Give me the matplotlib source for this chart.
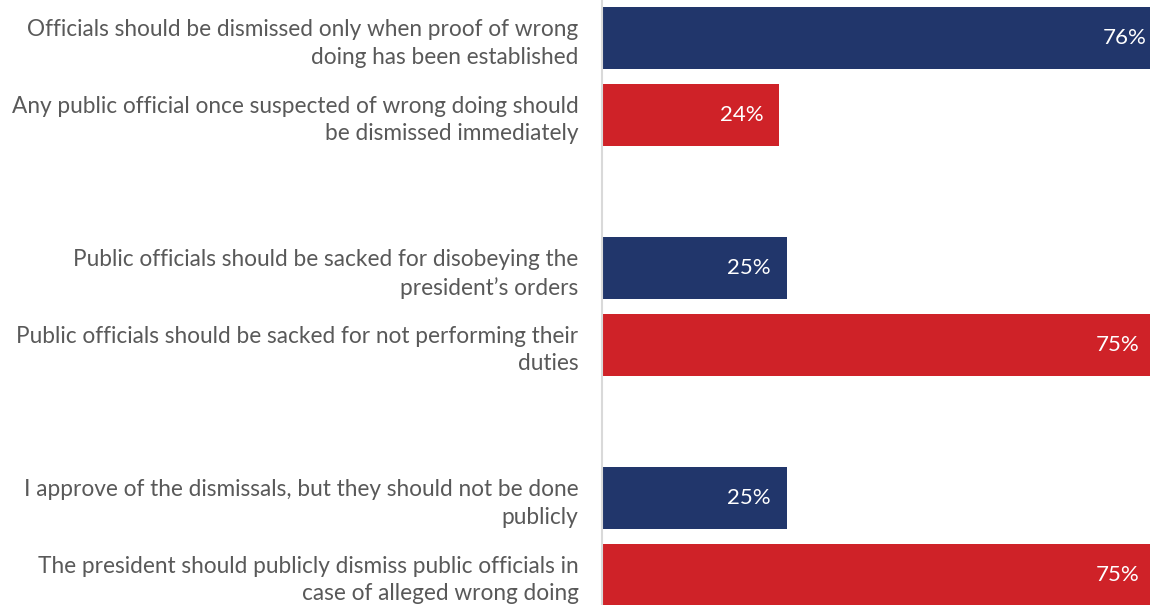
import numpy as np
import matplotlib.pyplot as plt

plt.rcParams['font.family'] = ['Lato', 'DejaVu Sans']

labels = [
    "Officials should be dismissed only when proof of wrong\ndoing has been established",
    "Any public official once suspected of wrong doing should\nbe dismissed immediately",
    "Public officials should be sacked for disobeying the\npresident\u2019s orders",
    "Public officials should be sacked for not performing their\nduties",
    "I approve of the dismissals, but they should not be done\npublicly",
    "The president should publicly dismiss public officials in\ncase of alleged wrong doing",
]
values = [76, 24, 25, 75, 25, 75]
slots = [0, 1, 3, 4, 6, 7]   # empty slot between the pairs
colors = ["#21366b", "#cf2228"] * 3

W, H = 1150, 605
fig = plt.figure(figsize=(W / 100, H / 100), dpi=100)
# bars get cut by the right edge of the picture, as in the original
x0 = 602
px_per_pct = 7.38
ax = fig.add_axes([x0 / W, 0, 76 * px_per_pct / W, 1])

ax.barh(slots, values, height=0.81, color=colors)
ax.set_xlim(0, 76)
pitch = 76.67
ax.set_ylim((H - 38) / pitch, -38 / pitch)

for s, v in zip(slots, values):
    ax.annotate(f"{v}%", (v, s), xytext=(-11.5, 0), textcoords="offset points",
                ha="right", va="center", color="white", fontsize=16)

ax.set_yticks(slots)
ax.set_yticklabels(labels, fontsize=16.3, color="#595959", linespacing=1.4)
for t in ax.get_yticklabels():
    t.set_va("center_baseline")
ax.tick_params(axis="y", length=0, pad=17)
ax.set_xticks([])
for side in ["top", "right", "bottom"]:
    ax.spines[side].set_visible(False)
ax.spines["left"].set_color("#d9d9d9")
ax.spines["left"].set_linewidth(1.5)

fig.savefig("out.png", dpi=100)
